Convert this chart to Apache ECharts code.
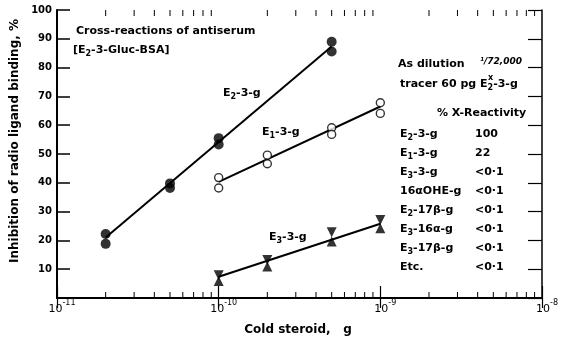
<!DOCTYPE html>
<html>
<head>
<meta charset="utf-8">
<script src="https://cdn.jsdelivr.net/npm/echarts@6/dist/echarts.min.js"></script>
<style>html,body{margin:0;padding:0;background:#fff;}#c{width:561px;height:343px;}</style>
</head>
<body>
<div id="c"></div>
<script>
// ---- data ----
const e2Points = [[2e-11, 22.2], [2e-11, 18.8], [5e-11, 39.8], [5e-11, 38.2], [1e-10, 55.5], [1e-10, 53.3], [5e-10, 89], [5e-10, 85.6]];
const e1Points = [[1e-10, 41.8], [1e-10, 38.2], [2e-10, 49.6], [2e-10, 46.6], [5e-10, 59.1], [5e-10, 56.8], [1e-9, 67.8], [1e-9, 64.1]];
const e3Down = [[1e-10, 7.9], [2e-10, 13.2], [5e-10, 22.8], [1e-9, 27.1]];
const e3Up = [[1e-10, 5.9], [2e-10, 10.9], [5e-10, 19.6], [1e-9, 24.2]];
const e2Fit = [[2e-11, 21], [5e-10, 87.3]];
const e1Fit = [[1e-10, 40.3], [1e-9, 66.5]];
const e3Fit = [[1e-10, 7.4], [1e-9, 25.8]];
const xDecades = [1e-11, 1e-10, 1e-9, 1e-8];
const xTickExponents = ['-11', '-10', '-9', '-8'];
const xMinorTicks = [2e-11,3e-11,4e-11,5e-11,6e-11,7e-11,8e-11,9e-11,
                     2e-10,3e-10,4e-10,5e-10,6e-10,7e-10,8e-10,9e-10,
                     2e-9,3e-9,4e-9,5e-9,6e-9,7e-9,8e-9,9e-9];
const reactNames = ['E{s|2}-3-g', 'E{s|1}-3-g', 'E{s|3}-3-g', '16\u03B1OHE-g', 'E{s|2}-17\u03B2-g', 'E{s|3}-16\u03B1-g', 'E{s|3}-17\u03B2-g', 'Etc.'];
const reactValues = ['100', '22', '<0\u00B71', '<0\u00B71', '<0\u00B71', '<0\u00B71', '<0\u00B71', '<0\u00B71'];

const FONT = 'DejaVu Sans';
const chart = echarts.init(document.getElementById('c'), null, {renderer: 'canvas'});

const richSub = {
  s: {fontSize: 8, fontWeight: 'bold', fontFamily: FONT, lineHeight: 8, verticalAlign: 'bottom', color: '#000'},
  u: {fontSize: 8, fontWeight: 'bold', fontFamily: FONT, lineHeight: 8, verticalAlign: 'top', color: '#000'}
};
function txt(text, x, y, extra) {
  return Object.assign({
    type: 'text', x: x, y: y, silent: true,
    style: Object.assign({text: text, fill: '#000', font: 'bold 11px "' + FONT + '"', lineHeight: 16,
      textVerticalAlign: 'middle', rich: richSub}, (extra && extra.style) || {})
  }, (extra && extra.el) || {});
}

const graphics = [
  txt('Cross-reactions of antiserum', 76, 31),
  txt('[E{s|2}-3-Gluc-BSA]', 73, 50),
  txt('E{s|2}-3-g', 223, 93),
  txt('E{s|1}-3-g', 262, 132),
  txt('E{s|3}-3-g', 269, 237),
  txt('As dilution', 398, 64),
  txt('\u00B9/72,000', 480, 62, {style: {font: 'italic bold 9px "' + FONT + '"'}}),
  txt('tracer 60 pg E{s|2}-3-g', 400, 84),
  txt('x', 488, 78, {style: {font: 'bold 8px "' + FONT + '"'}}),
  txt('% X-Reactivity', 437, 113),
  txt('Inhibition of radio ligand binding, %', 15, 141, {style: {textAlign: 'center', font: 'bold 12px "' + FONT + '"'}, el: {rotation: Math.PI / 2}}),
  txt('Cold steroid,   g', 298, 330, {style: {textAlign: 'center', font: 'bold 12px "' + FONT + '"'}})
];
reactNames.forEach(function (n, i) {
  graphics.push(txt(n, 400, 134 + i * 19));
  graphics.push(txt(reactValues[i], 475, 134 + i * 19));
});

const axisLine = {show: true, lineStyle: {color: '#000', width: 2}};
chart.setOption({
  animation: false,
  backgroundColor: '#fff',
  grid: {left: 57, top: 10, right: 19, bottom: 45, containLabel: false},
  xAxis: [{
    type: 'log', logBase: 10, min: 1e-11, max: 1e-8, position: 'bottom',
    axisLine: axisLine,
    axisTick: {show: true, inside: true, length: 12, lineStyle: {color: '#000', width: 1.2}},
    axisLabel: {show: true, margin: 1, color: '#000', padding: [0, 0, 0, 10],
      rich: {
        b: {fontFamily: FONT, fontSize: 11, lineHeight: 16, verticalAlign: 'bottom', color: '#000'},
        e: {fontFamily: FONT, fontSize: 8, lineHeight: 10, verticalAlign: 'top', color: '#000'}
      },
      formatter: function (v) {
        const i = xDecades.findIndex(d => Math.abs(Math.log10(d) - Math.log10(v)) < 1e-6);
        return i >= 0 ? '{b|10}{e|' + xTickExponents[i] + '}' : '';
      }},
    splitLine: {show: false}, minorTick: {show: false}
  }, {
    type: 'log', logBase: 10, min: 1e-11, max: 1e-8, position: 'top',
    axisLine: axisLine,
    axisTick: {show: true, inside: true, length: 10, lineStyle: {color: '#000', width: 1.2}},
    axisLabel: {show: false}, splitLine: {show: false}
  }],
  yAxis: [{
    type: 'value', min: 0, max: 100, interval: 10, position: 'left',
    axisLine: axisLine,
    axisTick: {show: true, inside: true, length: 13, lineStyle: {color: '#000', width: 1.5}},
    axisLabel: {show: true, showMinLabel: false, margin: 5, color: '#000', fontFamily: FONT, fontSize: 10, fontWeight: 'bold'},
    splitLine: {show: false}
  }, {
    type: 'value', min: 0, max: 100, interval: 10, position: 'right',
    axisLine: {show: true, lineStyle: {color: '#000', width: 1.5}},
    axisTick: {show: true, inside: true, length: 14, lineStyle: {color: '#000', width: 1.2}},
    axisLabel: {show: false}, splitLine: {show: false}
  }],
  graphic: graphics,
  series: [
    {type: 'custom', xAxisIndex: 0, yAxisIndex: 0, silent: true, clip: false, z: 1,
      data: xMinorTicks.map(v => [v, 0]),
      encode: {x: 0, y: 1},
      renderItem: function (params, api) {
        const v = api.value(0);
        const pb = api.coord([v, 0]);
        const pt = api.coord([v, 100]);
        const st = {stroke: '#000', lineWidth: 1};
        return {type: 'group', children: [
          {type: 'line', shape: {x1: pb[0], y1: pb[1], x2: pb[0], y2: pb[1] - 6}, style: st},
          {type: 'line', shape: {x1: pt[0], y1: pt[1], x2: pt[0], y2: pt[1] + 6}, style: st}
        ]};
      }},
    {type: 'line', data: e2Fit, showSymbol: false, lineStyle: {color: '#000', width: 2}, z: 2, silent: true},
    {type: 'line', data: e1Fit, showSymbol: false, lineStyle: {color: '#000', width: 2}, z: 2, silent: true},
    {type: 'line', data: e3Fit, showSymbol: false, lineStyle: {color: '#000', width: 2}, z: 2, silent: true},
    {type: 'scatter', data: e2Points, symbol: 'circle', symbolSize: 10, itemStyle: {color: '#000'}, z: 3, silent: true},
    {type: 'scatter', data: e1Points, symbol: 'circle', symbolSize: 8, itemStyle: {color: '#fff', borderColor: '#000', borderWidth: 1.4}, z: 3, silent: true},
    {type: 'scatter', data: e3Down, symbol: 'triangle', symbolRotate: 180, symbolSize: 10, itemStyle: {color: '#000'}, z: 3, silent: true},
    {type: 'scatter', data: e3Up, symbol: 'triangle', symbolSize: 10, itemStyle: {color: '#000'}, z: 3, silent: true}
  ]
});
</script>
</body>
</html>
